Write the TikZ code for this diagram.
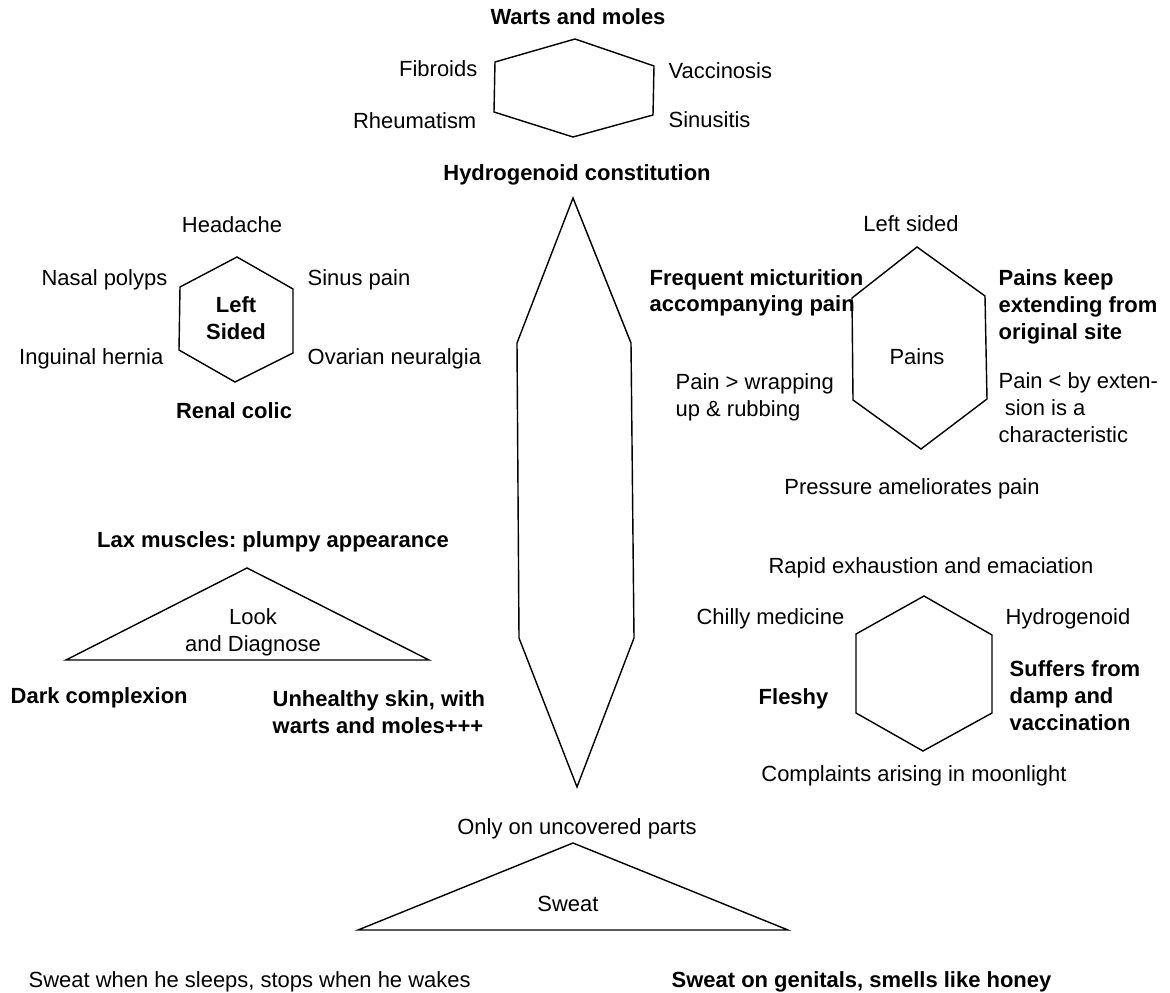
\documentclass[tikz,border=0pt]{standalone}
\usepackage{fontspec}
\setmainfont{Liberation Sans}
\usepackage{tikz}
\usetikzlibrary{positioning}

\begin{document}
\frenchspacing
\begin{tikzpicture}[x=0.02cm, y=-0.02cm, line width=0.8pt,
	txt/.style={inner sep=0pt, font=\fontsize{12.5}{15.3}\selectfont},
	btxt/.style={inner sep=0pt, font=\fontsize{12.5}{15.3}\selectfont\bfseries}]
	
	\useasboundingbox (0, 0) rectangle (1170, 993);
	
	%Hexagon oben
	\draw (575, 39) -- (654, 66) -- (653, 115) -- (573, 137) -- (494, 112) -- (495, 62) -- cycle;
	\node[btxt, anchor=base] (warts) at (578, 25) {Warts and moles};
	\node[txt, anchor=base east] (fibroids) at (478, 77) {Fibroids};
	\node[txt, anchor=base east] (rheuma) at (477, 129) {Rheumatism};
	\node[txt, anchor=base west] (vaccinosis) at (668, 79) {Vaccinosis};
	\node[txt, anchor=base west] (sinusitis) at (668, 128) {Sinusitis};
	\node[btxt, anchor=base] (constitution) at (577, 181) {Hydrogenoid constitution};
	
	%Spindel
	\draw (573, 198) -- (631, 343) -- (634, 638) -- (577, 787) -- (519, 638) -- (517, 343) -- cycle;
	
	%Hexagon links
	\draw (237, 257) -- (293, 289) -- (293, 353) -- (235, 382) -- (179, 350) -- (180, 287) -- cycle;
	\node[btxt, anchor=base, align=center] (leftsided) at (236, 339) {Left\\Sided};
	\node[txt, anchor=base] (headache) at (232, 233) {Headache};
	\node[txt, anchor=base east] (nasal) at (168, 286) {Nasal polyps};
	\node[txt, anchor=base west] (sinuspain) at (307, 286) {Sinus pain};
	\node[txt, anchor=base east] (hernia) at (164, 364) {Inguinal hernia};
	\node[txt, anchor=base west] (ovarian) at (307, 364) {Ovarian neuralgia};
	\node[btxt, anchor=base] (renal) at (234, 418) {Renal colic};
	
	%Hexagon Schmerzen
	\draw (917, 247) -- (985, 296) -- (987, 399) -- (921, 449) -- (853, 400) -- (852, 298) -- cycle;
	\node[txt, anchor=base] (pains) at (917, 364) {Pains};
	\node[txt, anchor=base] (painsleft) at (911, 232) {Left sided};
	\node[btxt, anchor=base west, align=left] (micturition) at (649, 312) {Frequent micturition\\accompanying pain};
	\node[btxt, anchor=base west, align=left] (extending) at (998, 339) {Pains keep\\extending from\\original site};
	\node[txt, anchor=base west, align=left] (wrapping) at (675, 416) {Pain > wrapping\\up \& rubbing};
	\node[txt, anchor=base west, align=left] (extension) at (998, 442) {Pain < by exten-\\\ sion is a\\characteristic};
	\node[txt, anchor=base] (pressure) at (912, 494) {Pressure ameliorates pain};
	
	%Hexagon unten rechts
	\draw (924, 596) -- (992, 635) -- (992, 713) -- (923, 751) -- (856, 713) -- (856, 634) -- cycle;
	\node[txt, anchor=base] (rapid) at (931, 573) {Rapid exhaustion and emaciation};
	\node[txt, anchor=base east] (chilly) at (845, 624) {Chilly medicine};
	\node[txt, anchor=base west] (hydrogenoid) at (1005, 624) {Hydrogenoid};
	\node[btxt, anchor=base east] (fleshy) at (829, 704) {Fleshy};
	\node[btxt, anchor=base west, align=left] (damp) at (1009, 730) {Suffers from\\damp and\\vaccination};
	\node[txt, anchor=base] (moonlight) at (914, 781) {Complaints arising in moonlight};
	
	%Dreieck links
	\draw (247, 568) -- (429, 660) -- (66, 660) -- cycle;
	\node[btxt, anchor=base] (lax) at (273, 547) {Lax muscles: plumpy appearance};
	\node[txt, anchor=base, align=center] (look) at (253, 651) {Look\\and Diagnose};
	\node[btxt, anchor=base west] (dark) at (10, 703) {Dark complexion};
	\node[btxt, anchor=base west, align=left] (skin) at (272, 733) {Unhealthy skin, with\\warts and moles+++};
	
	%Dreieck unten
	\draw (573, 843) -- (788, 930) -- (358, 930) -- cycle;
	\node[txt, anchor=base] (uncovered) at (577, 834) {Only on uncovered parts};
	\node[txt, anchor=base] (sweat) at (568, 911) {Sweat};
	\node[txt, anchor=base west] (sleeps) at (28, 987) {Sweat when he sleeps, stops when he wakes};
	\node[btxt, anchor=base west] (genitals) at (671, 987) {Sweat on genitals, smells like honey};

\end{tikzpicture}
\end{document}
